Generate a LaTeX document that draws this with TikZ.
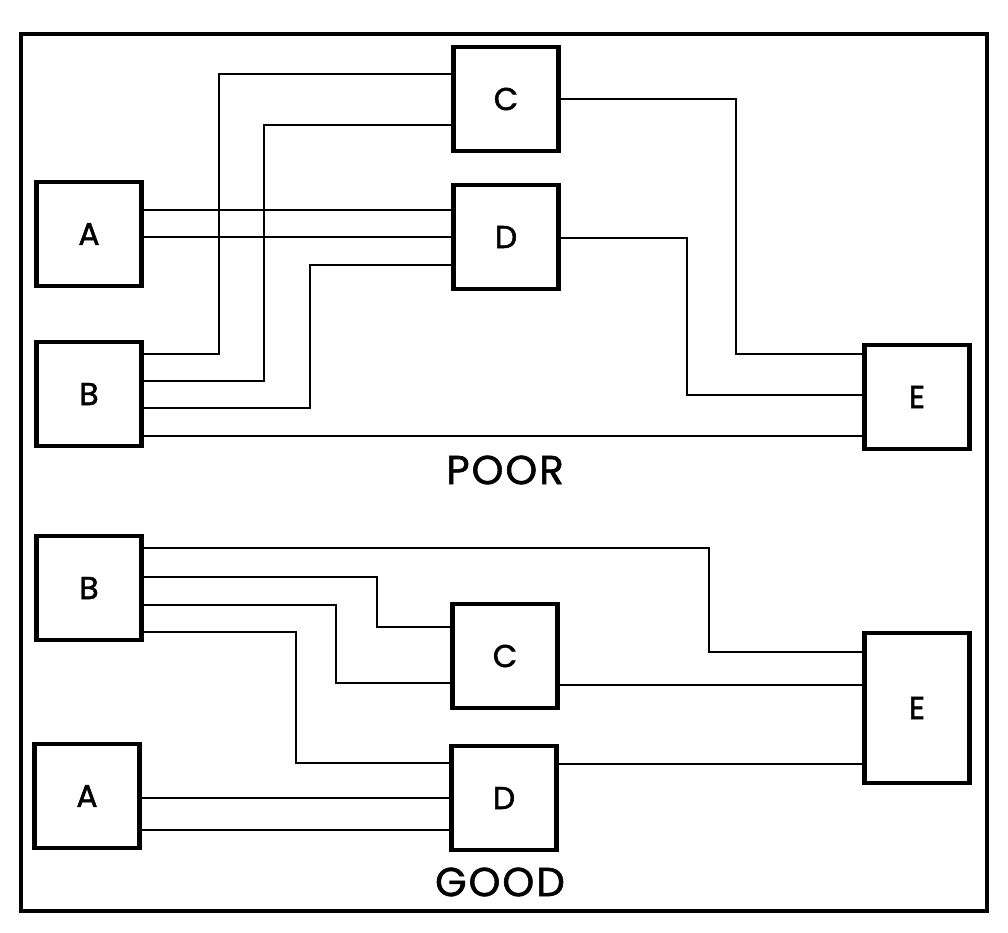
\documentclass[tikz,border=0pt]{standalone}
\usepackage{fontspec}
\setmainfont{Poppins}

\tikzset{
  blk/.style={draw, line width=2.4pt, minimum width=2.1cm, minimum height=2.08cm, font=\fontsize{18}{18}\selectfont\addfontfeature{FakeBold=1.5}},
  wire/.style={line width=1.1pt},
  verdict/.style={font=\fontsize{23}{23}\selectfont\addfontfeature{FakeBold=1.5,LetterSpace=5}}
}

\begin{document}
\begin{tikzpicture}[x=0.02cm, y=-0.02cm]
  \useasboundingbox (0,0) rectangle (1008,933);
  \draw[line width=2.8pt] (21,34) rectangle (987,911);

  % poor layout
  \node[blk] (pC) at (506,99) {C};
  \node[blk] (pA) at (89,234) {A};
  \node[blk] (pD) at (506,237) {D};
  \node[blk] (pB) at (89,394) {B};
  \node[blk] (pE) at (917,397) {E};
  \node[verdict] (poor) at (505,470) {POOR};

  % good layout
  \node[blk] (gB) at (89,588) {B};
  \node[blk] (gC) at (505,656) {C};
  \node[blk] (gA) at (87,796) {A};
  \node[blk] (gD) at (504,798) {D};
  \node[blk, minimum height=3cm] (gE) at (917,708) {E};
  \node[verdict] (good) at (500,882) {GOOD};

  \foreach \s/\ys/\x/\t/\yt in {pB/354/219/pC/74, pB/381/264/pC/125, pA/210/300/pD/210,
      pA/237/300/pD/237, pB/408/310/pD/265, pB/436/500/pE/436, pC/99/736/pE/354,
      pD/238/687/pE/395, gB/548/709/gE/652, gB/577/377/gC/627, gB/605/336/gC/683,
      gB/632/296/gD/763, gC/685/700/gE/685, gD/764/700/gE/764, gA/798/300/gD/798,
      gA/830/300/gD/830} {
    \draw[wire] (\s.east |- 0,\ys) -| (\x,\yt) -- (\t.west |- 0,\yt);
  }

\end{tikzpicture}
\end{document}
